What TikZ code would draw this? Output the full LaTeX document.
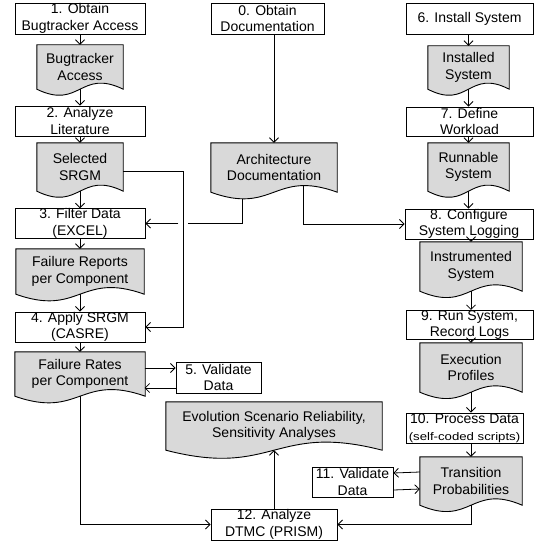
\documentclass[tikz,border=0pt]{standalone}
\usepackage{fontspec}
\setmainfont{Liberation Sans}
\usepackage{graphicx}
\usetikzlibrary{arrows.meta,calc}
\pgfdeclarelayer{bglines}
\pgfdeclarelayer{docfill}
\pgfsetlayers{bglines,docfill,main}
\definecolor{docgray}{HTML}{D9D9D9}
\tikzset{
  procbox/.style={draw, fill=white, line width=0.9pt, inner sep=0pt, align=center, font=\fontsize{14}{16.5}\selectfont},
  docnode/.style={inner sep=0pt, align=center, font=\fontsize{14}{16.5}\selectfont},
  docshape/.style={fill=docgray, draw, line width=0.9pt, line join=miter},
  arr/.style={-{Straight Barb[length=4.5pt,width=9pt]}, line width=0.8pt},
  conn/.style={line width=0.8pt},
}
\newcommand\docoutline[2]{\path[docshape] (#1.north west) -- (#1.north east) -- (#1.south east) .. controls ($(#1.south)+(0,-#2)$) and ($(#1.south)+(0,#2)$) .. (#1.south west) -- cycle;}
\begin{document}
\begin{tikzpicture}[x=1pt,y=-1pt]
\useasboundingbox (0,0) rectangle (540,543);
% process boxes
\node[procbox, minimum width=130pt, minimum height=31pt] (b1) at (80,18.5) {1. Obtain\\Bugtracker Access};
\node[procbox, minimum width=130pt, minimum height=30pt] (b2) at (80,121) {2. Analyze\\Literature};
\node[procbox, minimum width=130pt, minimum height=29pt] (b3) at (80,223.5) {3. Filter Data\\(EXCEL)};
\node[procbox, minimum width=130pt, minimum height=30pt] (b4) at (80,327) {4. Apply SRGM\\(CASRE)};
\node[procbox, minimum width=85pt, minimum height=31pt] (b5) at (218.5,377.5) {5. Validate\\Data};
\node[procbox, minimum width=113pt, minimum height=31pt] (b0) at (267.5,18.5) {0. Obtain\\Documentation};
\node[procbox, minimum width=126pt, minimum height=31pt] (b12) at (274,524.5) {12. Analyze\\DTMC (PRISM)};
\node[procbox, minimum width=127pt, minimum height=31pt] (b6) at (469.5,18.5) {6. Install System};
\node[procbox, minimum width=127pt, minimum height=29pt] (b7) at (469.5,121.5) {7. Define\\Workload};
\node[procbox, minimum width=128pt, minimum height=30pt] (b8) at (469,224) {8. Configure\\System Logging};
\node[procbox, minimum width=127pt, minimum height=26pt] (b9) at (469.5,325) {9. Run System,\\Record Logs};
\node[procbox, minimum width=117pt, minimum height=30pt] (b10) at (464.5,428) {10. Process Data\\{\fontsize{11}{13}\selectfont\scalebox{1.2}[1]{(self-coded scripts)}}};
\node[procbox, minimum width=81pt, minimum height=30pt] (b11) at (352.5,482) {11. Validate\\Data};
% document nodes
\node[docnode, minimum width=86pt, minimum height=44pt] (ba) at (80,67) {Bugtracker\\Access};
\node[docnode, minimum width=86pt, minimum height=48pt] (srgm) at (80,167) {Selected\\SRGM};
\node[docnode, minimum width=128pt, minimum height=45pt] (frpc) at (80,271.5) {Failure Reports\\per Component};
\node[docnode, minimum width=130pt, minimum height=44pt] (frates) at (80,374) {Failure Rates\\per Component};
\node[docnode, minimum width=126pt, minimum height=49pt] (arch) at (274,167.5) {Architecture\\Documentation};
\node[docnode, minimum width=216pt, minimum height=48pt] (evol) at (274,426) {Evolution Scenario Reliability,\\Sensitivity Analyses};
\node[docnode, minimum width=81pt, minimum height=43pt] (inst) at (468.5,67.5) {Installed\\System};
\node[docnode, minimum width=81pt, minimum height=48pt] (runn) at (468.5,167) {Runnable\\System};
\node[docnode, minimum width=102pt, minimum height=49pt] (instr) at (471,266.5) {Instrumented\\System};
\node[docnode, minimum width=102pt, minimum height=49pt] (exec) at (471,367.5) {Execution\\Profiles};
\node[docnode, minimum width=102pt, minimum height=48pt] (trans) at (471,481) {Transition\\Probabilities};
\begin{pgfonlayer}{docfill}
\docoutline{ba}{21}
\docoutline{srgm}{21}
\docoutline{frpc}{23}
\docoutline{frates}{23}
\docoutline{arch}{23}
\docoutline{evol}{28}
\docoutline{inst}{21}
\docoutline{runn}{21}
\docoutline{instr}{22}
\docoutline{exec}{22}
\docoutline{trans}{22}
\end{pgfonlayer}
% coordinates
\coordinate (srgmR) at ($(srgm.north east)+(0,29)$);
\coordinate (hopL) at ($(b3.east)+(33,0)$);
\coordinate (hopR) at ($(b3.east)+(43,0)$);
\coordinate (archL) at ($(arch.center)+(-32,0)$);
\coordinate (archR) at ($(arch.center)+(29,0)$);
\coordinate (v5a) at ($(b5.west)+(0,-9.5)$);
\coordinate (v5b) at ($(b5.west)+(0,10.5)$);
\coordinate (fra) at ($(b5.west)+(-31,-9.5)$);
\coordinate (frb) at ($(b5.west)+(-31,10.5)$);
\coordinate (tra) at ($(trans.west)+(0,-9)$);
\coordinate (trb) at ($(trans.west)+(0,8)$);
\coordinate (v11a) at ($(b11.east)+(0,-9)$);
\coordinate (v11b) at ($(b11.east)+(0,8)$);
% lines starting inside documents
\begin{pgfonlayer}{bglines}
\draw[conn] (archL) |- (hopR);
\draw[arr] (archR) |- (b8.west);
\end{pgfonlayer}
% left column
\draw[arr] (b1) -- (ba);
\draw[arr] (ba.south) -- (b2.north);
\draw[arr] (b2) -- (srgm);
\draw[arr] (srgm.south) -- (b3.north);
\draw[arr] (b3) -- (frpc);
\draw[arr] (frpc.south) -- (b4.north);
\draw[arr] (b4) -- (frates);
\draw[arr] (srgmR) -| ($(b4.east)+(38,0)$) -- (b4.east);
\draw[arr] (hopL) -- (b3.east);
\draw[arr] (fra) -- (v5a);
\draw[arr] (v5b) -- (frb);
\draw[arr] (frates.south) |- (b12.west);
% middle
\draw[arr] (b0.south -| arch.north) -- (arch.north);
\draw[arr] (b12.north) -- (evol.south);
% right column
\draw[arr] (b6.south -| inst.north) -- (inst.north);
\draw[arr] (inst.south) -- (inst.south |- b7.north);
\draw[arr] (b7.south -| runn.north) -- (runn.north);
\draw[arr] (runn.south) -- (runn.south |- b8.north);
\draw[arr] (b8.south -| instr.north) -- (instr.north);
\draw[arr] (instr.south) -- (instr.south |- b9.north);
\draw[arr] (b9.south -| exec.north) -- (exec.north);
\draw[arr] (exec.south) -- (exec.south |- b10.north);
\draw[arr] (b10.south -| trans.north) -- (trans.north);
\draw[arr] (tra) -- (v11a);
\draw[arr] (v11b) -- (trb);
\draw[arr] (trans.south) |- (b12.east);
\end{tikzpicture}
\end{document}
